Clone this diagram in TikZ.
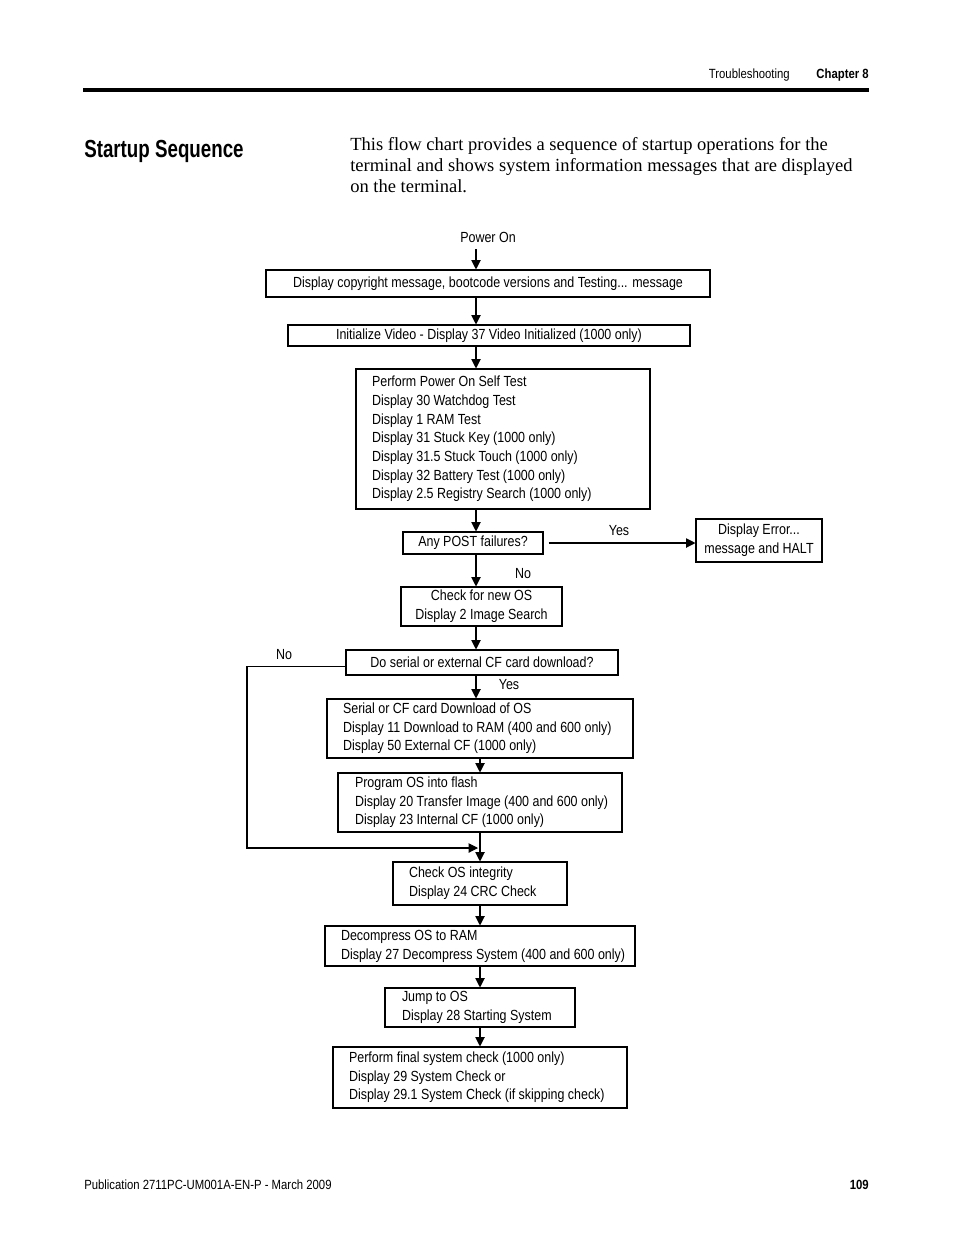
\documentclass[tikz,border=0pt]{standalone}
\usepackage{fontspec}
\setmainfont{Liberation Serif}
\newfontfamily\cnd[FakeStretch=0.85]{Liberation Sans}
\newfontfamily\ttl[FakeStretch=0.76]{Liberation Sans}
\usetikzlibrary{arrows.meta}
\newcommand\lb[3]{\makebox[#1][l]{\hspace*{#2}\begin{tabular}{@{}l@{}}#3\end{tabular}}}
\begin{document}
\begin{tikzpicture}[x=0.75pt,y=-0.75pt,
  box/.style={draw, line width=0.8pt, inner sep=0pt, font=\cnd\fontsize{11}{14}\selectfont, align=center},
  lbl/.style={font=\cnd\fontsize{11}{14}\selectfont, inner sep=1pt},
  arr/.style={-{Triangle[width=7pt,length=7pt]}, line width=0.8pt},
  hdr/.style={font=\cnd\fontsize{10}{12}\selectfont, inner sep=0pt}]
\useasboundingbox (0,0) rectangle (954,1235);
% header
\node[hdr, anchor=base east] (chap) at (869,78) {\bfseries Chapter 8};
\node[hdr, anchor=base east] (trb) at (790,78) {Troubleshooting};
\draw[line width=2.6pt] (83,90) -- (869,90);
\node[anchor=base west, inner sep=0pt, font=\ttl\bfseries\fontsize{18.5}{20}\selectfont] (title) at (84,157) {Startup Sequence};
\node[anchor=north west, inner sep=0pt, align=left, font=\fontsize{13.9}{15.75}\selectfont] (intro) at (350,137) {This flow chart provides a sequence of startup operations for the\\terminal and shows system information messages that are displayed\\on the terminal.};
% footer
\node[hdr, anchor=base west] (pub) at (84,1189) {Publication 2711PC-UM001A-EN-P - March 2009};
\node[hdr, anchor=base east] (pg) at (869,1189) {\bfseries 109};
% guide coordinates
\coordinate (cL) at (476,0);
\coordinate (cR) at (480,0);
% flow nodes
\node[lbl] (pwr) at (488,237) {Power On};
\node[box, minimum width=333pt, minimum height=20.25pt] (A) at (488,283.5) {Display copyright message, bootcode versions and Testing... message};
\node[box, minimum width=301.5pt, minimum height=15.75pt] (B) at (489,335.5) {Initialize Video - Display 37 Video Initialized (1000 only)};
\node[box, minimum height=105pt] (C) at (503,439) {\lb{220.5pt}{12pt}{Perform Power On Self Test\\Display 30 Watchdog Test\\Display 1 RAM Test\\Display 31 Stuck Key (1000 only)\\Display 31.5 Stuck Touch (1000 only)\\Display 32 Battery Test (1000 only)\\Display 2.5 Registry Search (1000 only)}};
\node[box, minimum width=105pt, minimum height=16.5pt] (D) at (473,543) {Any POST failures?};
\node[box, minimum width=94.5pt, minimum height=32.25pt] (E) at (759,540.5) {Display Error...\\message and HALT};
\node[box, minimum width=120.75pt, minimum height=29.25pt] (F) at (481.5,606.5) {Check for new OS\\Display 2 Image Search};
\node[box, minimum width=204pt, minimum height=18.75pt] (G) at (482,662.5) {Do serial or external CF card download?};
\node[box, minimum height=44.25pt] (H) at (480,728.5) {\lb{229.5pt}{12pt}{Serial or CF card Download of OS\\Display 11 Download to RAM (400 and 600 only)\\Display 50 External CF (1000 only)}};
\node[box, minimum height=44.25pt] (I) at (480,802.5) {\lb{213pt}{12.75pt}{Program OS into flash\\Display 20 Transfer Image (400 and 600 only)\\Display 23 Internal CF (1000 only)}};
\node[box, minimum height=32.25pt] (J) at (480,883.5) {\lb{130.5pt}{12pt}{Check OS integrity\\Display 24 CRC Check}};
\node[box, minimum height=30pt] (K) at (480,946) {\lb{232.5pt}{12pt}{Decompress OS to RAM\\Display 27 Decompress System (400 and 600 only)}};
\node[box, minimum height=29.25pt] (L) at (480,1007.5) {\lb{142.5pt}{12.75pt}{Jump to OS\\Display 28 Starting System}};
\node[box, minimum height=45.75pt] (M) at (480,1077.5) {\lb{220.5pt}{12pt}{Perform final system check (1000 only)\\Display 29 System Check or\\Display 29.1 System Check (if skipping check)}};
% labels
\node[lbl] (yes1) at (619,531) {Yes};
\node[lbl] (no1) at (523,574) {No};
\node[lbl] (no2) at (284,655) {No};
\node[lbl] (yes2) at (509,685) {Yes};
% loop coordinates
\coordinate (loopc) at (247,848);
\coordinate (loopend) at (478,848);
% connectors
\draw[arr, shorten <=4pt] (pwr.south -| cL) -- (A.north -| cL);
\draw[arr] (A.south -| cL) -- (B.north -| cL);
\draw[arr] (B.south -| cL) -- (C.north -| cL);
\draw[arr] (C.south -| cL) -- (D.north -| cL);
\draw[arr] ([xshift=3.75pt]D.east) -- (E.west |- D.east);
\draw[arr] (D.south -| cL) -- (F.north -| cL);
\draw[arr] (F.south -| cL) -- (G.north -| cL);
\draw[arr] (G.south -| cL) -- (H.north -| cL);
\draw[arr] (H.south -| cR) -- (I.north -| cR);
\draw[arr] (I.south -| cR) -- (J.north -| cR);
\draw[arr] ([yshift=-3pt]G.west) -| (loopc) -- (loopend);
\draw[arr] (J.south -| cR) -- (K.north -| cR);
\draw[arr] (K.south -| cR) -- (L.north -| cR);
\draw[arr] (L.south -| cR) -- (M.north -| cR);
\end{tikzpicture}
\end{document}
